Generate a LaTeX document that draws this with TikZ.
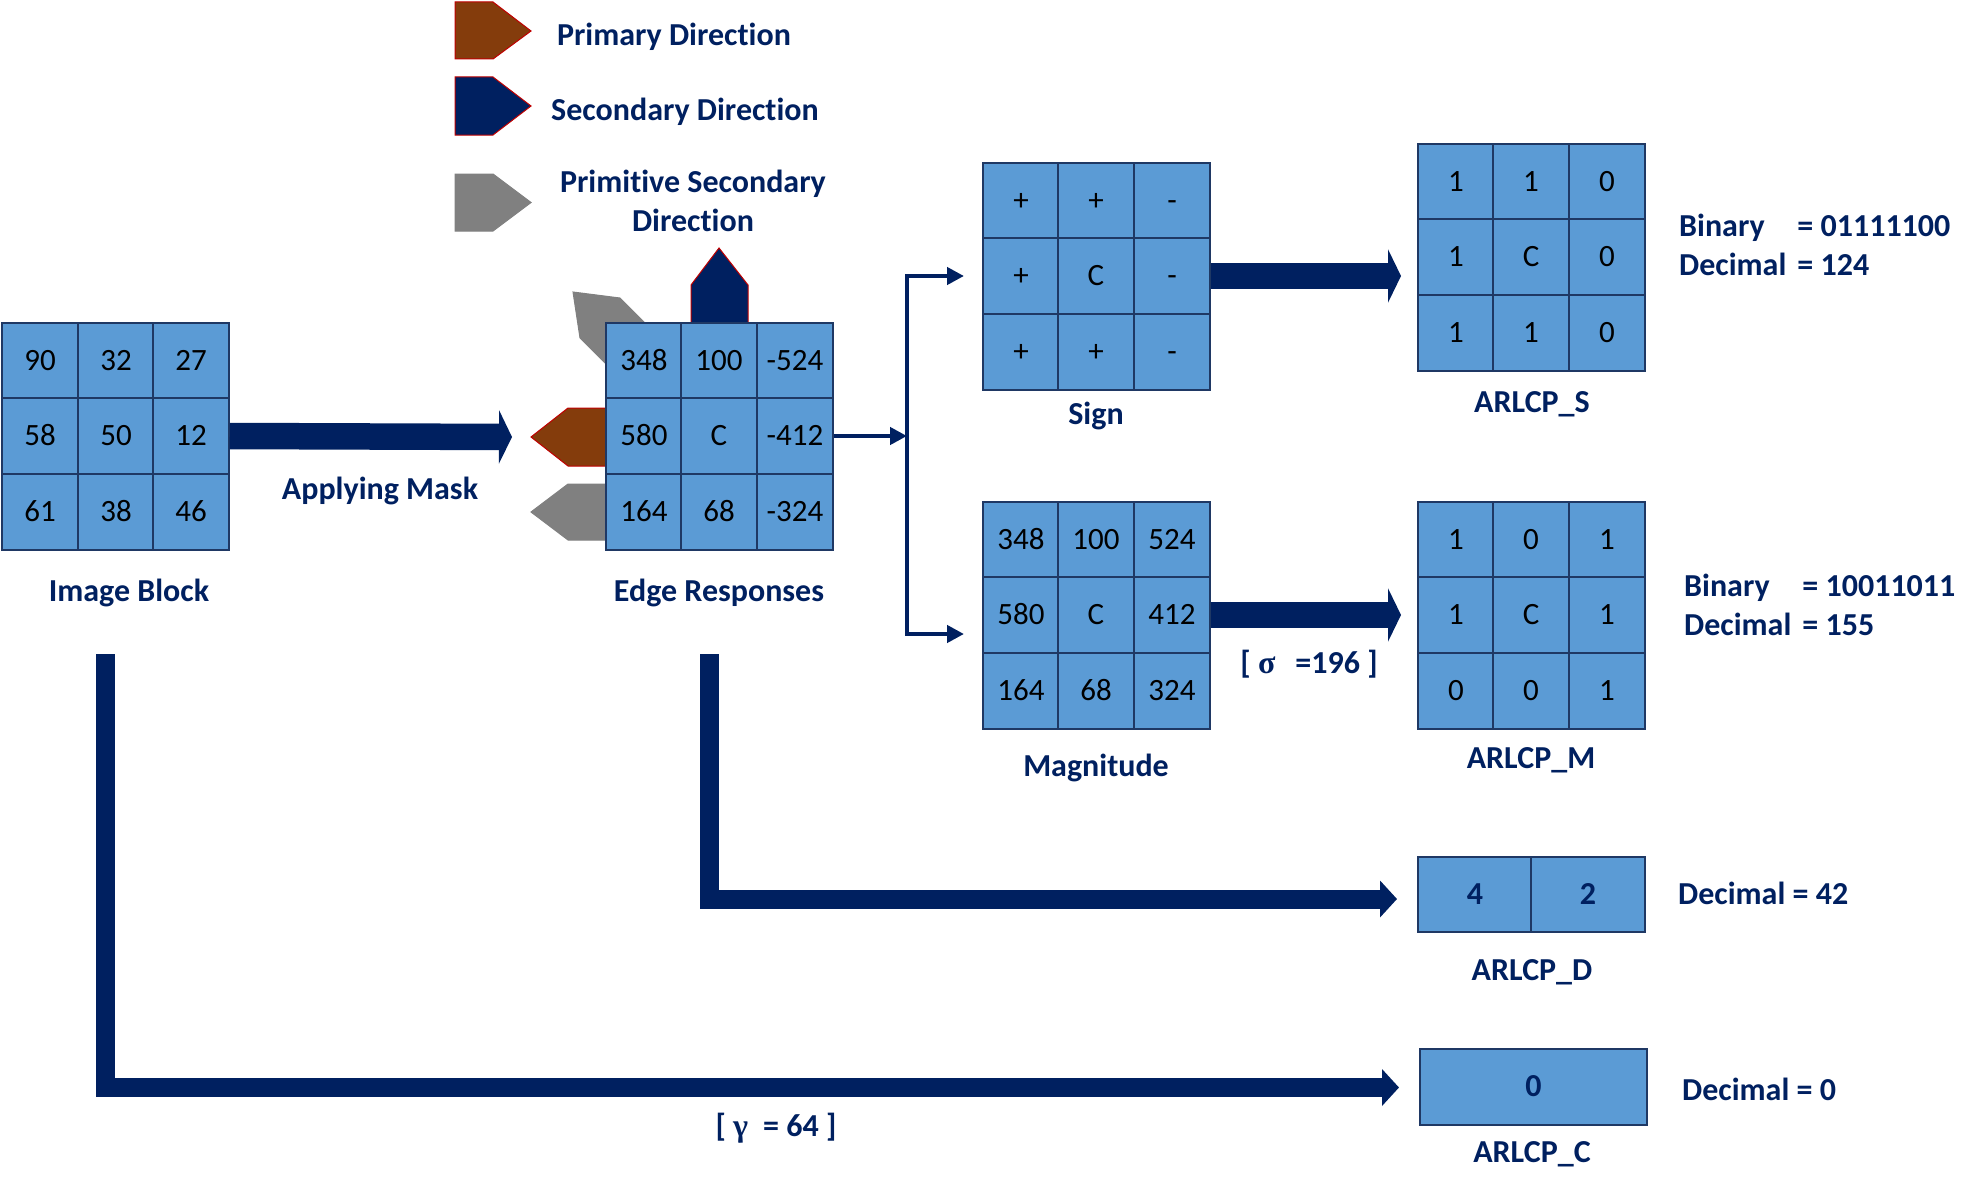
\documentclass[tikz,border=0pt]{standalone}
\usepackage{fontspec}
\setmainfont[Ligatures=NoCommon]{Carlito}
\newfontfamily\greekfont{Liberation Serif}
\usetikzlibrary{arrows.meta}
\definecolor{cellblue}{HTML}{5B9BD5}
\definecolor{gridline}{HTML}{1F3864}
\definecolor{navy}{HTML}{002060}
\definecolor{rust}{HTML}{843C0C}
\definecolor{edgered}{HTML}{C00000}
\definecolor{shade}{HTML}{808080}
\tikzset{
  cell/.style={draw=gridline, line width=2pt, fill=cellblue, minimum width=75.5pt,
    minimum height=75.5pt, inner sep=0pt, font=\fontsize{31}{37}\selectfont,
    text height=19.5pt, text depth=0pt},
  codecell/.style={cell, text=navy, font=\fontsize{32}{38}\selectfont\bfseries},
  tag/.style={text=navy, inner sep=0pt, font=\fontsize{32}{39}\selectfont\bfseries,
    text height=20pt, text depth=0pt},
  primary/.style={fill=rust, draw=edgered, line width=1pt},
  secondary/.style={fill=navy, draw=edgered, line width=1pt},
  primitive/.style={fill=shade, draw=shade, line width=1pt},
  link/.style={draw=navy, line width=4.5pt},
  bigarrow/.style={draw=navy, line width=26.5pt, -{Triangle[length=13pt,width=53pt]}},
  lbend/.style={draw=navy, line width=19pt, -{Triangle[length=17pt,width=36pt]}}
}
\begin{document}
\begin{tikzpicture}[x=1pt,y=-1pt]
      \useasboundingbox (0,0) rectangle (1968,1199);
      % legend
      \draw[primary] (455,2) -- (493,2) -- (531,31) -- (493,59) -- (455,59) -- cycle;
      \draw[secondary] (455,77) -- (493,77) -- (531,106) -- (493,135) -- (455,135) -- cycle;
      \draw[primitive] (455,174) -- (493,174) -- (531,202.5) -- (493,231) -- (455,231) -- cycle;
      \node[tag] (legprim) at (674,36) {Primary Direction};
      \node[tag] (legsec) at (685,111) {Secondary Direction};
      \node[tag, align=center, text height=, text depth=] (legprimitive) at (693,201)
        {Primitive Secondary\\Direction};
      % directions round the edge responses
      \draw[primitive] (573,292) -- (620,298) -- (655,333) -- (615,373) -- (580,338) -- cycle;
      \draw[secondary] (691,330) -- (691,285) -- (719,248) -- (748,285) -- (748,330) -- cycle;
      \draw[primary] (612,408) -- (568,408) -- (531,437) -- (568,466) -- (612,466) -- cycle;
      \draw[primitive] (612,484) -- (568,484) -- (531,512) -- (568,540) -- (612,540) -- cycle;
      % image block
      \path
        (40,361) node[cell] (ib1){90}
        (116,361) node[cell] (ib2){32}
        (191,361) node[cell] (ib3){27}
        (40,436) node[cell] (ib4){58}
        (116,436) node[cell] (ib5){50}
        (191,436) node[cell] (ib6){12}
        (40,512) node[cell] (ib7){61}
        (116,512) node[cell] (ib8){38}
        (191,512) node[cell] (ib9){46};
      % edge responses
      \path
        (644,361) node[cell] (er1){348}
        (719,361) node[cell] (er2){100}
        (795,361) node[cell] (er3){-524}
        (644,436) node[cell] (er4){580}
        (719,436) node[cell] (er5){C}
        (795,436) node[cell] (er6){-412}
        (644,512) node[cell] (er7){164}
        (719,512) node[cell] (er8){68}
        (795,512) node[cell] (er9){-324};
      % sign
      \path
        (1021,201) node[cell] (sg1){+}
        (1096,201) node[cell] (sg2){+}
        (1172,201) node[cell] (sg3){-}
        (1021,276) node[cell] (sg4){+}
        (1096,276) node[cell] (sg5){C}
        (1172,276) node[cell] (sg6){-}
        (1021,352) node[cell] (sg7){+}
        (1096,352) node[cell] (sg8){+}
        (1172,352) node[cell] (sg9){-};
      % magnitude
      \path
        (1021,540) node[cell] (mg1){348}
        (1096,540) node[cell] (mg2){100}
        (1172,540) node[cell] (mg3){524}
        (1021,615) node[cell] (mg4){580}
        (1096,615) node[cell] (mg5){C}
        (1172,615) node[cell] (mg6){412}
        (1021,691) node[cell] (mg7){164}
        (1096,691) node[cell] (mg8){68}
        (1172,691) node[cell] (mg9){324};
      % ARLCP_S
      \path
        (1456,182) node[cell] (cs1){1}
        (1531,182) node[cell] (cs2){1}
        (1607,182) node[cell] (cs3){0}
        (1456,257) node[cell] (cs4){1}
        (1531,257) node[cell] (cs5){C}
        (1607,257) node[cell] (cs6){0}
        (1456,333) node[cell] (cs7){1}
        (1531,333) node[cell] (cs8){1}
        (1607,333) node[cell] (cs9){0};
      % ARLCP_M
      \path
        (1456,540) node[cell] (cm1){1}
        (1531,540) node[cell] (cm2){0}
        (1607,540) node[cell] (cm3){1}
        (1456,615) node[cell] (cm4){1}
        (1531,615) node[cell] (cm5){C}
        (1607,615) node[cell] (cm6){1}
        (1456,691) node[cell] (cm7){0}
        (1531,691) node[cell] (cm8){0}
        (1607,691) node[cell] (cm9){1};
      % ARLCP_D and ARLCP_C
      \path
        (1475,894.5) node[codecell, minimum width=113.5pt] (cd1){4}
        (1588,894.5) node[codecell, minimum width=113.5pt] (cd2){2}
        (1533.5,1087) node[codecell, minimum width=227pt] (cc1){0};
      % names and values
      \node[tag] (ibname) at (129,591) {Image Block};
      \node[tag] (maskname) at (380,489) {Applying Mask};
      \node[tag] (ername) at (719,591) {Edge Responses};
      \node[tag] (sgname) at (1096,414) {Sign};
      \node[tag] (mgname) at (1096,766) {Magnitude};
      \node[tag] (csname) at (1532,402) {ARLCP\_S};
      \node[tag] (cmname) at (1531,758) {ARLCP\_M};
      \node[tag] (cdname) at (1532,970) {ARLCP\_D};
      \node[tag] (ccname) at (1532,1152) {ARLCP\_C};
      \node[tag] (sigma) at (1309,663) {[ {\greekfont σ}\hspace{20pt}=196 ]};
      \node[tag] (gamma) at (776,1126) {[ {\greekfont γ}\hspace{15pt}= 64 ]};
      \node[tag, anchor=west, text height=, text depth=] (csval) at (1679,248)
        {\begin{tabular}{@{}l@{\hspace{11pt}}l@{}}Binary & = 01111100\\Decimal & = 124\end{tabular}};
      \node[tag, anchor=west, text height=, text depth=] (cmval) at (1684,608)
        {\begin{tabular}{@{}l@{\hspace{11pt}}l@{}}Binary & = 10011011\\Decimal & = 155\end{tabular}};
      \node[tag, anchor=west] (cdval) at (1678,894) {Decimal = 42};
      \node[tag, anchor=west] (ccval) at (1682,1090) {Decimal = 0};
      % connectors
      \coordinate (masktip) at (512,437);
      \coordinate (fork) at (907,436);
      \coordinate (forkN) at (907,276);
      \coordinate (forkS) at (907,634);
      \coordinate (toS) at (964,276);
      \coordinate (toM) at (964,634);
      \coordinate (stip) at (1401,276);
      \coordinate (mtip) at (1401,615);
      \coordinate (erdrop) at (709.5,654);
      \coordinate (dtip) at (1397,899);
      \coordinate (ibdrop) at (105.5,654);
      \coordinate (ctip) at (1399,1087.5);
      \begin{scope}[]
        \draw[bigarrow] (ib6.east) -- (masktip);
        \draw[link, -{Triangle[length=17pt,width=17pt]}] (er6.east) -- (fork);
        \draw[link, {Triangle[length=17pt,width=17pt]}-{Triangle[length=17pt,width=17pt]}]
          (toS) -- (forkN) -- (forkS) -- (toM);
        \draw[bigarrow] (sg6.east) -- (stip);
        \draw[bigarrow] (mg6.east) -- (mtip);
        \draw[lbend] (erdrop) |- (dtip);
        \draw[lbend] (ibdrop) |- (ctip);
      \end{scope}
    \end{tikzpicture}
\end{document}
